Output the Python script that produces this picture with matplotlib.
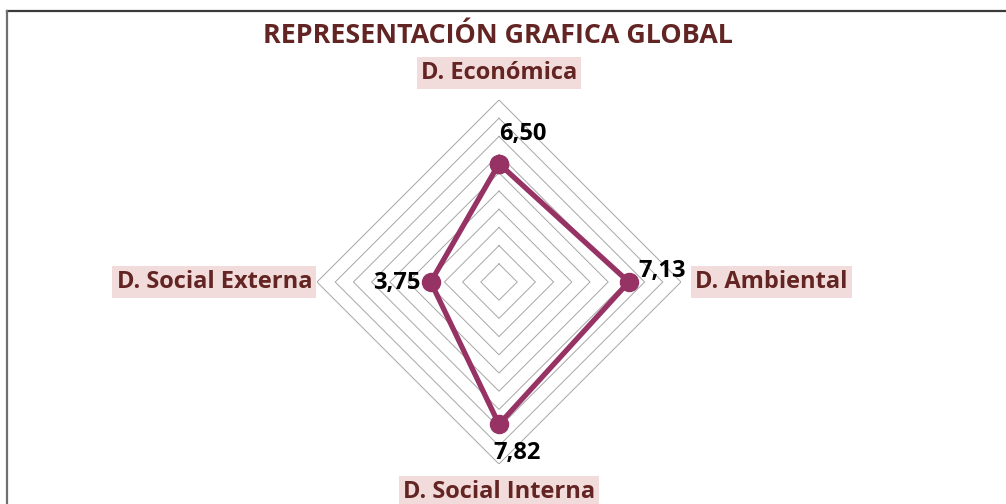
import numpy as np
import matplotlib
matplotlib.use("Agg")
import matplotlib.pyplot as plt
from matplotlib.lines import Line2D

# ---- data ----
categories = ["D. Económica", "D. Ambiental", "D. Social Interna", "D. Social Externa"]
values = [6.50, 7.13, 7.82, 3.75]
value_labels = ["6,50", "7,13", "7,82", "3,75"]
grid_levels = [1, 2, 3, 4, 5, 6, 7, 8, 9, 10]
title = "REPRESENTACIÓN GRAFICA GLOBAL"

plt.rcParams['font.family'] = ['Open Sans', 'DejaVu Sans']

line_color = '#963264'
text_dark = '#632523'
box_color = '#F2DCDB'

fig = plt.figure(figsize=(10.06, 5.04), dpi=100)
ax = fig.add_axes([317/1006, 40/504, 364/1006, 364/504], projection='polar')
ax.set_theta_offset(np.pi/2)
ax.set_theta_direction(-1)
ax.set_ylim(0, 10)
ax.grid(False)
ax.set_xticks([])
ax.set_yticks([])
ax.spines['polar'].set_visible(False)
ax.patch.set_alpha(0)

n = len(categories)
angles = [2*np.pi*i/n for i in range(n)]

# diamond gridlines
for lv in grid_levels:
    ax.plot(angles + angles[:1], [lv]*(n+1), color='#A6A6A6', lw=0.7, zorder=1)

# series
ax.plot(angles + angles[:1], values + values[:1], color=line_color, lw=3.8,
        marker='o', markersize=13, zorder=3, solid_joinstyle='round')

# value labels
val_offsets = [(17, 21.5), (24, 8), (13, -20.5), (-24.5, -1)]
for a, v, lab, off in zip(angles, values, value_labels, val_offsets):
    ax.annotate(lab, xy=(a, v), xytext=off, textcoords='offset points',
                ha='center', va='center', fontsize=17, fontweight='bold',
                color='black', zorder=5)

# category labels
cat_offsets = [((0, 19.5), 'center'), ((10, 0), 'left'), ((0, -20), 'center'), ((-3.5, 0), 'right')]
for a, lab, (off, ha) in zip(angles, categories, cat_offsets):
    ax.annotate(lab, xy=(a, 10), xytext=off, textcoords='offset points',
                ha=ha, va='center', fontsize=17, fontweight='bold', color=text_dark,
                bbox=dict(boxstyle='square,pad=0.18', facecolor=box_color, edgecolor='none'),
                annotation_clip=False, zorder=5)

fig.text(498/1006, 1 - 36/504, title, ha='center', va='center', fontsize=19.4,
         fontweight='bold', color=text_dark)

# frame border (top and left edges visible)
fig.add_artist(Line2D([7/1006, 1.0], [1 - 11/504, 1 - 11/504], transform=fig.transFigure,
                      color='#3a3a3a', lw=1.6))
fig.add_artist(Line2D([7/1006, 7/1006], [1 - 11/504, 0.0], transform=fig.transFigure,
                      color='#6f6f6f', lw=1.6))

fig.savefig('out.png', dpi=100)
